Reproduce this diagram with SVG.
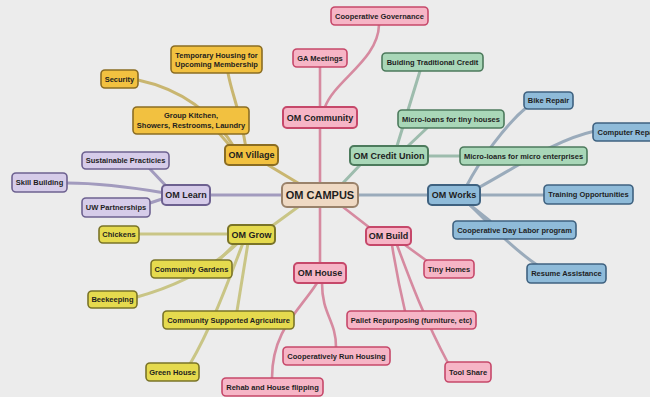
<svg xmlns="http://www.w3.org/2000/svg" width="650" height="397" viewBox="0 0 650 397">
  <style>
    .bg { fill: #ececec; }
    .edge { fill: none; stroke-width: 3; stroke-linecap: round; }
    .e-pink { stroke: #d68aa0; stroke-width: 2.6; }
    .e-gold { stroke: #c9b670; }
    .e-lemon { stroke: #c9c586; }
    .e-lilac { stroke: #a29bbe; }
    .e-mint { stroke: #9dbcad; }
    .e-sky { stroke: #9aabbb; }
    rect { stroke-width: 1.6; }
    .main rect { stroke-width: 2; }
    .tan rect { fill: #efd9c3; stroke: #9a826a; }
    .gold rect { fill: #f2c140; stroke: #8b6d23; }
    .lemon rect { fill: #e5da4e; stroke: #7a7428; }
    .lilac rect { fill: #d6cce9; stroke: #6d6190; }
    .pink rect { fill: #f6b5c6; stroke: #c6486a; }
    .mint rect { fill: #a9d7b8; stroke: #4c7a5c; }
    .sky rect { fill: #8fbbd9; stroke: #3f6280; }
    text { font-family: "Liberation Sans", Arial, sans-serif; font-weight: bold; fill: #1e1e1e; text-anchor: middle; font-size: 7.5px; }
    .main text { font-size: 9px; }
    .center text { font-size: 11px; }
  </style>

  <rect class="bg" x="0" y="0" width="650" height="397"/>

  <g id="connectors">
    <!-- community / house / build branches -->
    <path class="edge e-pink" d="M320,183 L320,128"/>
    <path class="edge e-pink" d="M320,207 L320,263"/>
    <path class="edge e-pink" d="M320,107 L320,67"/>
    <path class="edge e-pink" d="M325,107 C335,80 378,60 379,25"/>
    <path class="edge e-pink" d="M343,207 L370,228"/>
    <path class="edge e-pink" d="M405,245 L427,261"/>
    <path class="edge e-pink" d="M392,245 C396,270 400,290 405,311"/>
    <path class="edge e-pink" d="M397,245 C410,280 425,320 448,363"/>
    <path class="edge e-pink" d="M322,283 C322,315 336,320 336,347"/>
    <path class="edge e-pink" d="M317,283 C300,310 272,330 272,378"/>
    <!-- village branch -->
    <path class="edge e-gold" d="M298,183 L268,165"/>
    <path class="edge e-gold" d="M236,150 C215,115 185,90 138,80"/>
    <path class="edge e-gold" d="M246,148 C240,110 232,95 228,73"/>
    <path class="edge e-gold" d="M232,148 L218,132"/>
    <!-- grow branch -->
    <path class="edge e-lemon" d="M298,207 L272,226"/>
    <path class="edge e-lemon" d="M228,234 L139,234"/>
    <path class="edge e-lemon" d="M236,243 L218,261"/>
    <path class="edge e-lemon" d="M238,243 C215,265 180,285 137,297"/>
    <path class="edge e-lemon" d="M248,243 L237,311"/>
    <path class="edge e-lemon" d="M243,243 C225,290 210,330 190,364"/>
    <!-- learn branch -->
    <path class="edge e-lilac" d="M282,195 L210,195"/>
    <path class="edge e-lilac" d="M167,187 L150,169"/>
    <path class="edge e-lilac" d="M165,193 C130,187 100,183 67,183"/>
    <path class="edge e-lilac" d="M165,198 L150,203"/>
    <!-- credit union branch -->
    <path class="edge e-mint" d="M343,183 L360,165"/>
    <path class="edge e-mint" d="M397,146 L420,71"/>
    <path class="edge e-mint" d="M408,146 L427,128"/>
    <path class="edge e-mint" d="M428,156 L460,156"/>
    <!-- works branch -->
    <path class="edge e-sky" d="M358,195 L428,195"/>
    <path class="edge e-sky" d="M480,195 L544,195"/>
    <path class="edge e-sky" d="M466,187 C480,160 505,125 527,107"/>
    <path class="edge e-sky" d="M478,188 C520,165 555,140 595,131"/>
    <path class="edge e-sky" d="M470,205 L490,221"/>
    <path class="edge e-sky" d="M468,203 C495,230 515,250 537,265"/>
  </g>

  <!-- hub -->
  <g id="om-campus" class="main center tan">
    <rect x="282" y="183" width="76" height="24" rx="5"/>
    <text x="320" y="199">OM CAMPUS</text>
  </g>

  <!-- first ring -->
  <g id="om-village" class="main gold">
    <rect x="225" y="145" width="53" height="20" rx="4"/>
    <text x="251.5" y="158.2">OM Village</text>
  </g>
  <g id="om-credit-union" class="main mint">
    <rect x="350" y="146" width="78" height="19" rx="4"/>
    <text x="389" y="158.7">OM Credit Union</text>
  </g>
  <g id="om-grow" class="main lemon">
    <rect x="228" y="225" width="47" height="19" rx="4"/>
    <text x="251.5" y="237.7">OM Grow</text>
  </g>
  <g id="om-build" class="main pink">
    <rect x="366" y="227" width="45" height="18" rx="4"/>
    <text x="388.5" y="239.2">OM Build</text>
  </g>
  <g id="om-learn" class="main lilac">
    <rect x="162" y="185" width="48" height="20" rx="4"/>
    <text x="186" y="198.2">OM Learn</text>
  </g>
  <g id="om-community" class="main pink">
    <rect x="283" y="107" width="74" height="21" rx="4"/>
    <text x="320" y="120.7">OM Community</text>
  </g>
  <g id="om-house" class="main pink">
    <rect x="294" y="263" width="52" height="20" rx="4"/>
    <text x="320" y="276.2">OM House</text>
  </g>
  <g id="om-works" class="main sky">
    <rect x="428" y="185" width="52" height="20" rx="4"/>
    <text x="454" y="198.2">OM Works</text>
  </g>

  <!-- community leaves -->
  <g id="ga-meetings" class="pink">
    <rect x="293" y="49" width="54" height="18" rx="4"/>
    <text x="320" y="60.7">GA Meetings</text>
  </g>
  <g id="cooperative-governance" class="pink">
    <rect x="331" y="7" width="97" height="18" rx="4"/>
    <text x="379.5" y="18.7">Cooperative Governance</text>
  </g>

  <!-- credit union leaves -->
  <g id="building-credit" class="mint">
    <rect x="382" y="53" width="101" height="18" rx="4"/>
    <text x="432.5" y="64.7">Buiding Traditional Credit</text>
  </g>
  <g id="loans-tiny-houses" class="mint">
    <rect x="398" y="110" width="106" height="18" rx="4"/>
    <text x="451" y="121.7">Micro-loans for tiny houses</text>
  </g>
  <g id="loans-enterprises" class="mint">
    <rect x="460" y="147" width="127" height="18" rx="4"/>
    <text x="523.5" y="158.7">Micro-loans for micro enterprises</text>
  </g>

  <!-- works leaves -->
  <g id="bike-repair" class="sky">
    <rect x="524" y="92" width="49" height="17" rx="4"/>
    <text x="548.5" y="103.2">Bike Repair</text>
  </g>
  <g id="computer-repair" class="sky">
    <rect x="593" y="123" width="70" height="18" rx="4"/>
    <text x="628" y="134.7">Computer Repair</text>
  </g>
  <g id="training" class="sky">
    <rect x="544" y="185" width="89" height="19" rx="4"/>
    <text x="588.5" y="197.2">Training Opportunities</text>
  </g>
  <g id="day-labor" class="sky">
    <rect x="453" y="221" width="123" height="18" rx="4"/>
    <text x="514.5" y="232.7">Cooperative Day Labor program</text>
  </g>
  <g id="resume" class="sky">
    <rect x="527" y="264" width="79" height="19" rx="4"/>
    <text x="566.5" y="276.2">Resume Assistance</text>
  </g>

  <!-- build leaves -->
  <g id="tiny-homes" class="pink">
    <rect x="424" y="260" width="50" height="18" rx="4"/>
    <text x="449" y="271.7">Tiny Homes</text>
  </g>
  <g id="pallet" class="pink">
    <rect x="347" y="311" width="129" height="18" rx="4"/>
    <text x="411.5" y="322.7">Pallet Repurposing (furniture, etc)</text>
  </g>
  <g id="tool-share" class="pink">
    <rect x="445" y="362" width="46" height="20" rx="4"/>
    <text x="468" y="374.7">Tool Share</text>
  </g>

  <!-- house leaves -->
  <g id="coop-housing" class="pink">
    <rect x="283" y="347" width="107" height="18" rx="4"/>
    <text x="336.5" y="358.7">Cooperatively Run Housing</text>
  </g>
  <g id="rehab" class="pink">
    <rect x="222" y="378" width="101" height="18" rx="4"/>
    <text x="272.5" y="389.7">Rehab and House flipping</text>
  </g>

  <!-- grow leaves -->
  <g id="csa" class="lemon">
    <rect x="163" y="311" width="131" height="18" rx="4"/>
    <text x="228.5" y="322.7">Community Supported Agriculture</text>
  </g>
  <g id="green-house" class="lemon">
    <rect x="146" y="363" width="53" height="18" rx="4"/>
    <text x="172.5" y="374.7">Green House</text>
  </g>
  <g id="beekeeping" class="lemon">
    <rect x="88" y="291" width="49" height="17" rx="4"/>
    <text x="112.5" y="302.2">Beekeeping</text>
  </g>
  <g id="gardens" class="lemon">
    <rect x="151" y="260" width="81" height="18" rx="4"/>
    <text x="191.5" y="271.7">Community Gardens</text>
  </g>
  <g id="chickens" class="lemon">
    <rect x="99" y="226" width="40" height="17" rx="4"/>
    <text x="119" y="237.2">Chickens</text>
  </g>

  <!-- learn leaves -->
  <g id="uw-partnerships" class="lilac">
    <rect x="82" y="198" width="68" height="19" rx="4"/>
    <text x="116" y="210.2">UW Partnerships</text>
  </g>
  <g id="sustainable" class="lilac">
    <rect x="82" y="152" width="87" height="17" rx="4"/>
    <text x="125.5" y="163.2">Sustainable Practicies</text>
  </g>
  <g id="skill-building" class="lilac">
    <rect x="12" y="173" width="55" height="19" rx="4"/>
    <text x="39.5" y="185.2">Skill Building</text>
  </g>

  <!-- village leaves -->
  <g id="security" class="gold">
    <rect x="101" y="70" width="37" height="18" rx="4"/>
    <text x="119.5" y="81.7">Security</text>
  </g>
  <g id="temporary-housing" class="gold">
    <rect x="171" y="46" width="91" height="27" rx="4"/>
    <text x="216.5" y="57.7">Temporary Housing for</text>
    <text x="216.5" y="66.9">Upcoming Membership</text>
  </g>
  <g id="group-kitchen" class="gold">
    <rect x="133" y="107" width="116" height="27" rx="4"/>
    <text x="191" y="118.4">Group Kitchen,</text>
    <text x="191" y="127.7">Showers, Restrooms, Laundry</text>
  </g>
</svg>
